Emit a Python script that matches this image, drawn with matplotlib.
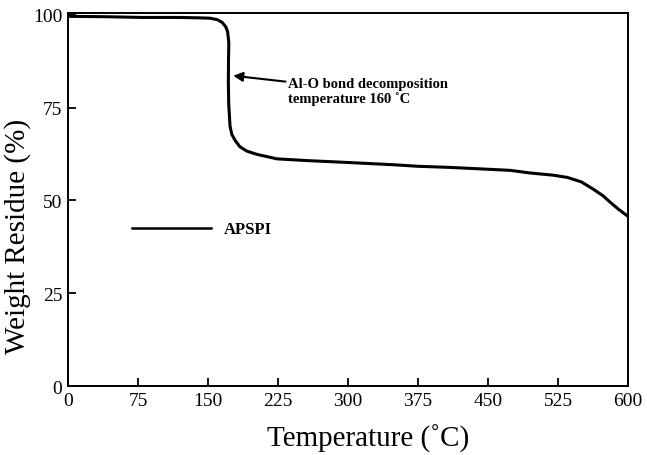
import matplotlib
matplotlib.use("Agg")
import matplotlib.pyplot as plt

plt.rcParams['font.family'] = ['Liberation Serif', 'DejaVu Serif']

# TGA curve of APSPI
temperature = [0, 40, 80, 120, 140, 152, 160, 165, 169, 171, 172.3, 172, 171.8,
               172.2, 173.6, 175.5, 179, 184, 191.5, 202.5, 224, 259, 302, 350,
               375, 409, 450, 474, 495, 520, 535, 550, 563, 573, 581, 590, 600]
weight = [99.6, 99.5, 99.3, 99.3, 99.2, 99.1, 98.7, 98.0, 96.8, 95.5, 92.5, 88, 81.7,
          76, 70, 67.8, 66.2, 64.5, 63.3, 62.4, 61.2, 60.7, 60.2, 59.6,
          59.2, 58.9, 58.4, 58.1, 57.4, 56.8, 56.2, 55.0, 53.0, 51.3, 49.5, 47.6, 45.7]

xticks = [0, 75, 150, 225, 300, 375, 450, 525, 600]
yticks = [0, 25, 50, 75, 100]

fig = plt.figure(figsize=(6.47, 4.56), dpi=100)
ax = fig.add_axes([0.1051, 0.1513, 0.8655, 0.818])

ax.plot(temperature, weight, color='black', lw=2.2)

# legend drawn by hand like in the original
ax.plot([68.6, 153], [42.7, 42.7], color='black', lw=1.8)
ax.text(167, 42.3, 'APSPI', fontsize=12, fontweight='bold', va='center', ha='left')

ax.annotate('Al-O bond decomposition\ntemperature 160 \u02daC',
            xy=(177, 83.6), xytext=(236, 79.5),
            fontsize=10.5, fontweight='bold', va='center', ha='left',
            linespacing=1.15,
            arrowprops=dict(arrowstyle='-|>', color='black', lw=1.5,
                            mutation_scale=14, shrinkA=0, shrinkB=0))

ax.set_xlim(0, 600)
ax.set_ylim(0, 100.5)
ax.set_xticks(xticks)
ax.set_yticks(yticks)
ax.tick_params(direction='in', length=6, width=1.3, labelsize=14,
               top=False, right=False, pad=4)
for s in ax.spines.values():
    s.set_linewidth(1.4)

ax.set_xlabel('Temperature (\u02daC)', fontsize=21)
ax.set_ylabel('Weight Residue (%)', fontsize=21)
ax.xaxis.set_label_coords(0.536, -0.10)
ax.yaxis.set_label_coords(-0.066, 0.405)

fig.savefig('out.png', dpi=100)
